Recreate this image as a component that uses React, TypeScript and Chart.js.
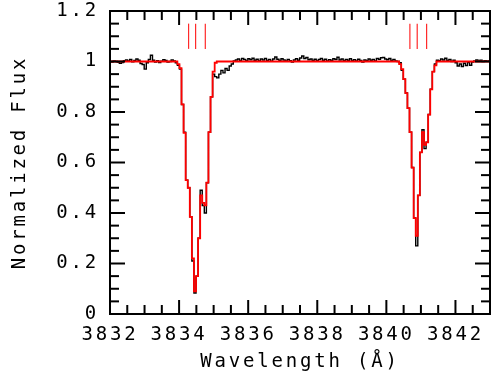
import React, { useEffect, useRef } from 'react';
import { Chart, registerables } from 'chart.js';

Chart.register(...registerables);

// Wavelength sampling of the spectrum (Angstrom)
const waveStart = 3832.0;
const waveStep = 0.06;

// Observed normalized flux (black histogram)
const observedFlux = [
  1.000, 0.998, 1.002, 1.000, 0.997, 0.993, 0.996, 1.003, 1.006, 1.002,
  1.008, 0.999, 1.004, 1.010, 1.005, 0.992, 0.988, 0.970, 0.995, 1.008,
  1.025, 1.005, 0.998, 1.003, 0.996, 1.001, 1.007, 1.004, 0.998, 1.000,
  1.006, 1.002, 0.995, 0.985, 0.970, 0.830, 0.720, 0.530, 0.500, 0.385,
  0.210, 0.083, 0.150, 0.300, 0.490, 0.430, 0.400, 0.520, 0.720, 0.860,
  0.950, 0.940, 0.935, 0.950, 0.965, 0.955, 0.972, 0.965, 0.982, 0.990,
  1.002, 1.006, 1.010, 1.004, 1.012, 1.008, 1.003, 1.011, 1.007, 1.013,
  1.005, 1.009, 1.002, 1.010, 1.006, 1.012, 1.004, 1.008, 1.001, 1.010,
  1.018, 1.009, 1.004, 1.011, 1.006, 1.002, 1.008, 1.003, 0.998, 1.006,
  1.011, 1.005, 1.014, 1.022, 1.012, 1.016, 1.007, 1.010, 1.004, 1.009,
  1.003, 1.008, 1.012, 1.005, 1.009, 1.002, 1.007, 1.004, 1.011, 1.008,
  1.017, 1.006, 1.010, 1.003, 1.008, 1.005, 1.011, 1.004, 1.007, 1.002,
  1.009, 1.004, 0.998, 1.006, 1.003, 1.010, 1.005, 1.008, 1.002, 1.012,
  1.009, 1.015, 1.016, 1.010, 1.007, 1.012, 1.004, 1.008, 1.002, 1.000,
  0.995, 0.965, 0.930, 0.875, 0.815, 0.720, 0.580, 0.380, 0.270, 0.470,
  0.640, 0.730, 0.655, 0.680, 0.790, 0.890, 0.960, 0.990, 1.005, 1.003,
  1.010, 1.006, 1.013, 1.004, 1.008, 1.000, 1.005, 0.995, 0.982, 0.990,
  0.980, 0.993, 0.984, 0.996, 0.985, 0.998, 1.002, 1.006, 1.002, 1.005,
  1.000, 1.003, 1.001, 1.002,
];

// Model normalized flux (red histogram)
const modelFlux = [
  1, 1, 1, 1, 1, 1, 1, 1, 1, 1,
  1, 1, 1, 1, 1, 1, 1, 1, 1, 1,
  1, 1, 1, 1, 1, 1, 1, 1, 1, 1,
  1, 1, 1, 0.99, 0.974, 0.83, 0.717, 0.53, 0.50, 0.385,
  0.22, 0.09, 0.15, 0.30, 0.47, 0.44, 0.43, 0.52, 0.72, 0.86,
  0.96, 0.995, 1, 1, 1, 1, 1, 1, 1, 1,
  1, 1, 1, 1, 1, 1, 1, 1, 1, 1,
  1, 1, 1, 1, 1, 1, 1, 1, 1, 1,
  1, 1, 1, 1, 1, 1, 1, 1, 1, 1,
  1, 1, 1, 1, 1, 1, 1, 1, 1, 1,
  1, 1, 1, 1, 1, 1, 1, 1, 1, 1,
  1, 1, 1, 1, 1, 1, 1, 1, 1, 1,
  1, 1, 1, 1, 1, 1, 1, 1, 1, 1,
  1, 1, 1, 1, 1, 1, 1, 1, 1, 1,
  0.99, 0.97, 0.93, 0.875, 0.815, 0.72, 0.58, 0.38, 0.31, 0.47,
  0.64, 0.72, 0.67, 0.68, 0.79, 0.89, 0.96, 0.985, 1.0, 1,
  1, 1, 1, 1, 1, 1, 1, 1, 1, 1,
  1, 1, 1, 1, 1, 1, 1, 1, 1, 1,
  1, 1, 1, 1,
];

// Component line positions (red markers)
const lineMarkers = [3834.275, 3834.478, 3834.759, 3840.681, 3840.893, 3841.165];
const markerBottom = 1.05;
const markerTop = 1.15;

// Axes
const xMin = 3832;
const xMax = 3843;
const yMin = 0;
const yMax = 1.2;
const xTickLabels = [3832, 3834, 3836, 3838, 3840, 3842];
const yTickLabels = [0, 0.2, 0.4, 0.6, 0.8, 1, 1.2];
const xMinorStep = 0.5;
const yMinorStep = 0.05;

const FONT_FAMILY = 'DejaVu Sans Mono';
const LETTER_SPACING = '2.8px';
const FONT = { family: FONT_FAMILY, size: 19, weight: 'normal' as const };

const framePlugin = {
  id: 'idlFrame',
  beforeLayout(chart: any) {
    chart.ctx.letterSpacing = LETTER_SPACING;
  },
  beforeDraw(chart: any) {
    chart.ctx.letterSpacing = LETTER_SPACING;
  },
  afterDraw(chart: any) {
    const { ctx, chartArea: a, scales } = chart;
    const xs = scales.x;
    const ys = scales.y;
    ctx.save();
    ctx.strokeStyle = '#000';
    ctx.lineWidth = 2;
    ctx.lineCap = 'butt';
    const seg = (x1: number, y1: number, x2: number, y2: number) => {
      ctx.beginPath();
      ctx.moveTo(x1, y1);
      ctx.lineTo(x2, y2);
      ctx.stroke();
    };
    const nx = Math.round((xMax - xMin) / xMinorStep);
    for (let k = 0; k <= nx; k++) {
      const v = xMin + k * xMinorStep;
      const major = xTickLabels.some((t) => Math.abs(t - v) < 1e-6);
      const len = major ? 14 : 9;
      const px = xs.getPixelForValue(v);
      seg(px, a.bottom, px, a.bottom - len);
      seg(px, a.top, px, a.top + len);
    }
    const ny = Math.round((yMax - yMin) / yMinorStep);
    for (let k = 0; k <= ny; k++) {
      const v = yMin + k * yMinorStep;
      const major = yTickLabels.some((t) => Math.abs(t - v) < 1e-6);
      const len = major ? 15 : 9;
      const py = ys.getPixelForValue(v);
      seg(a.left, py, a.left + len, py);
      seg(a.right, py, a.right - len, py);
    }
    ctx.strokeRect(a.left, a.top, a.right - a.left, a.bottom - a.top);
    ctx.restore();
  },
};

export default function App() {
  const canvasRef = useRef<HTMLCanvasElement | null>(null);

  useEffect(() => {
    if (!canvasRef.current) return;
    const observed = observedFlux.map((f, i) => ({ x: waveStart + i * waveStep, y: f }));
    const model = modelFlux.map((f, i) => ({ x: waveStart + i * waveStep, y: f }));
    const markerSets = lineMarkers.map((w) => ({
      data: [
        { x: w, y: markerBottom },
        { x: w, y: markerTop },
      ],
      borderColor: '#ff2a2a',
      borderWidth: 1.2,
      pointRadius: 0,
      stepped: false,
      order: 2,
    }));

    const chart = new Chart(canvasRef.current, {
      type: 'line',
      data: {
        datasets: [
          {
            label: 'Model',
            data: model,
            borderColor: '#ff0000',
            borderWidth: 1.8,
            pointRadius: 0,
            stepped: 'middle',
            order: 0,
          },
          {
            label: 'Observed',
            data: observed,
            borderColor: '#000000',
            borderWidth: 1.4,
            pointRadius: 0,
            stepped: 'middle',
            order: 1,
          },
          ...markerSets,
        ] as any,
      },
      options: {
        responsive: false,
        animation: false,
        events: [],
        layout: { padding: { top: 11, right: 1, left: 0, bottom: 0 } },
        plugins: {
          legend: { display: false },
          tooltip: { enabled: false },
        },
        scales: {
          x: {
            type: 'linear',
            min: xMin,
            max: xMax,
            grid: { display: false, drawTicks: false },
            border: { display: false },
            afterFit: (s: any) => {
              s.height = 73;
              s.paddingLeft = 0;
              s.paddingRight = 0;
            },
            afterBuildTicks: (s: any) => {
              s.ticks = xTickLabels.map((v) => ({ value: v }));
            },
            ticks: {
              autoSkip: false,
              maxRotation: 0,
              padding: 10,
              color: '#000',
              font: FONT,
              callback: (v: any) => String(v),
            },
            title: {
              display: true,
              text: 'Wavelength (Å)',
              color: '#000',
              font: FONT,
              padding: { top: 0, bottom: 14 },
            },
          },
          y: {
            type: 'linear',
            min: yMin,
            max: yMax,
            grid: { display: false, drawTicks: false },
            border: { display: false },
            afterFit: (s: any) => {
              s.width = 110;
              s.paddingTop = 0;
              s.paddingBottom = 0;
            },
            afterBuildTicks: (s: any) => {
              s.ticks = yTickLabels.map((v) => ({ value: v }));
            },
            ticks: {
              autoSkip: false,
              padding: 11,
              color: '#000',
              font: FONT,
              callback: (v: any) => String(Math.round(v * 10) / 10),
            },
            title: {
              display: true,
              text: 'Normalized Flux',
              color: '#000',
              font: FONT,
              padding: { top: 9, bottom: 0 },
            },
          },
        },
      },
      plugins: [framePlugin],
    });
    return () => chart.destroy();
  }, []);

  return (
    <div style={{ position: 'fixed', left: 0, top: 0, width: 491, height: 387, background: '#fff' }}>
      <canvas ref={canvasRef} width={491} height={387} style={{ display: 'block' }} />
    </div>
  );
}
